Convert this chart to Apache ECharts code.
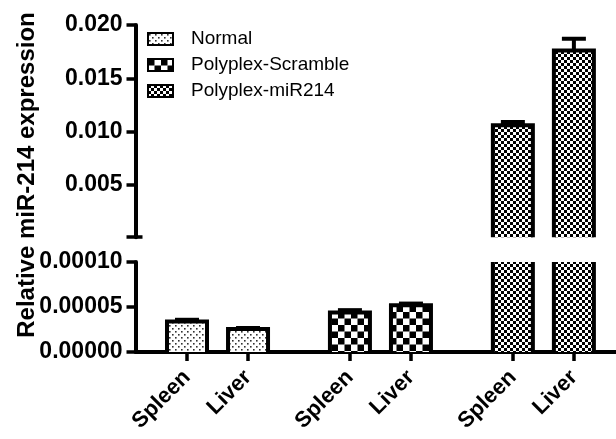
<!DOCTYPE html>
<html><head><meta charset="utf-8">
<script src="https://cdn.jsdelivr.net/npm/echarts@6/dist/echarts.min.js"></script>
<style>html,body{margin:0;padding:0;background:#fff}#c{width:616px;height:439px}</style>
</head><body><div id="c"></div>
<script>
// ---- data ----
const tissues = ['Spleen', 'Liver'];
const groups = ['Normal', 'Polyplex-Scramble', 'Polyplex-miR214'];
const normalMean = [0.000034, 0.0000255];
const normalErr = [0.0000018, 0.0000012];
const scrambleMean = [0.000044, 0.000052];
const scrambleErr = [0.0000025, 0.0000018];
const mir214Mean = [0.0106, 0.0176];
const mir214Err = [0.0003, 0.0011];
const lowerTicks = [0, 0.00005, 0.0001];
const upperTicks = [0.005, 0.010, 0.015, 0.020];
const breakValue = 0.0001;
const yName = 'Relative miR-214 expression';

// ---- layout / style ----
const FONT = "'Liberation Sans', Arial, sans-serif";
const GROUP_STEP = 2.67;
const BAR_W = 40;
const means = [normalMean, scrambleMean, mir214Mean];
const errs = [normalErr, scrambleErr, mir214Err];
const xPos = groups.map((g, gi) => tissues.map((t, ti) => gi * GROUP_STEP + ti));
const allX = [].concat(...xPos);
const xName = [].concat(...groups.map(() => tissues));
const X_MIN = -0.844, X_MAX = 7.03;

function makePattern(kind) {
  const c = document.createElement('canvas');
  const ctx = c.getContext('2d');
  if (kind === 0) {
    c.width = 6; c.height = 6;
    ctx.fillStyle = '#fff'; ctx.fillRect(0, 0, 6, 6);
    ctx.fillStyle = '#333';
    ctx.fillRect(1, 1, 1.6, 1.6); ctx.fillRect(4, 4, 1.6, 1.6);
  } else if (kind === 1) {
    c.width = 13; c.height = 13;
    ctx.fillStyle = '#fff'; ctx.fillRect(0, 0, 13, 13);
    ctx.fillStyle = '#000';
    ctx.fillRect(0, 0, 6.5, 6.5); ctx.fillRect(6.5, 6.5, 6.5, 6.5);
  } else {
    c.width = 6; c.height = 6;
    ctx.fillStyle = '#fff'; ctx.fillRect(0, 0, 6, 6);
    ctx.fillStyle = '#000';
    ctx.fillRect(0, 0, 3, 3); ctx.fillRect(3, 3, 3, 3);
  }
  return { image: c, repeat: 'repeat' };
}
const patterns = [0, 1, 2].map(makePattern);

function renderBar(gi) {
  return function (params, api) {
    const x = api.value(0), y = api.value(1), e = api.value(2);
    const base = api.coord([x, 0]);
    const top = api.coord([x, y]);
    const errTop = api.coord([x, y + e]);
    const l = top[0] - BAR_W / 2, r = top[0] + BAR_W / 2;
    return {
      type: 'group',
      children: [
        { type: 'rect', shape: { x: l, y: top[1], width: BAR_W, height: base[1] - top[1] },
          style: { fill: patterns[gi] } },
        { type: 'line', shape: { x1: top[0], y1: top[1], x2: top[0], y2: errTop[1] },
          style: { stroke: '#000', lineWidth: 4 } },
        { type: 'line', shape: { x1: top[0] - 12, y1: errTop[1], x2: top[0] + 12, y2: errTop[1] },
          style: { stroke: '#000', lineWidth: 4 } },
        { type: 'polyline', shape: { points: [[l, base[1] + 3], [l, top[1]], [r, top[1]], [r, base[1] + 3]] },
          style: { stroke: '#000', lineWidth: 4, fill: null, lineJoin: 'miter' } }
      ]
    };
  };
}

const series = [];
[0, 1].forEach(gridIdx => {
  groups.forEach((g, gi) => {
    series.push({
      type: 'custom', name: g, xAxisIndex: gridIdx, yAxisIndex: gridIdx, clip: true,
      itemStyle: { color: patterns[gi], borderColor: '#000', borderWidth: 2 },
      renderItem: renderBar(gi),
      encode: { x: 0, y: 1 },
      // upper (broken) panel only shows values that reach above the break
      data: tissues.map((t, ti) => (gridIdx === 1 || means[gi][ti] > breakValue)
        ? [xPos[gi][ti], means[gi][ti], errs[gi][ti]] : [xPos[gi][ti], '-', '-'])
    });
  });
});

const tickStyle = { color: '#000', width: 3.5 };
const labelStyle = { color: '#000', fontFamily: FONT, fontWeight: 'bold', fontSize: 23, margin: 13 };

const chart = echarts.init(document.getElementById('c'), null, { renderer: 'canvas' });
chart.setOption({
  animation: false,
  backgroundColor: '#fff',
  grid: [
    { left: 135.5, right: 0, top: 25, height: 212.2 },
    { left: 135.5, right: 0, top: 262, height: 90 }
  ],
  xAxis: [
    { type: 'value', gridIndex: 0, min: X_MIN, max: X_MAX, show: false },
    { type: 'value', gridIndex: 1, min: X_MIN, max: X_MAX,
      splitLine: { show: false },
      axisLine: { show: true, onZero: false, lineStyle: { color: '#000', width: 4 } },
      axisTick: { show: true, customValues: allX, length: 9, lineStyle: tickStyle },
      axisLabel: { customValues: allX, rotate: 45, margin: 22, color: '#000',
        fontFamily: FONT, fontWeight: 'bold', fontSize: 22,
        formatter: v => { let k = 0; allX.forEach((p, i) => { if (Math.abs(p - v) < Math.abs(allX[k] - v)) k = i; }); return xName[k]; } } }
  ],
  yAxis: [
    { type: 'value', gridIndex: 0, position: 'left', min: breakValue, max: upperTicks[upperTicks.length - 1],
      splitLine: { show: false },
      axisLine: { show: true, onZero: false, lineStyle: { color: '#000', width: 4 } },
      axisTick: { show: true, customValues: [breakValue].concat(upperTicks), length: 9, lineStyle: tickStyle },
      axisLabel: Object.assign({ customValues: upperTicks, formatter: v => v.toFixed(3) }, labelStyle) },
    { type: 'value', gridIndex: 1, position: 'left', min: lowerTicks[0], max: lowerTicks[lowerTicks.length - 1],
      splitLine: { show: false },
      axisLine: { show: true, onZero: false, lineStyle: { color: '#000', width: 4 } },
      axisTick: { show: true, customValues: lowerTicks, length: 9, lineStyle: tickStyle },
      axisLabel: Object.assign({ customValues: lowerTicks, formatter: v => v.toFixed(5) }, labelStyle) },
    { type: 'value', gridIndex: 0, position: 'left', min: breakValue, max: upperTicks[upperTicks.length - 1],
      splitLine: { show: false }, axisLine: { show: false, onZero: false }, axisLabel: { show: false },
      axisTick: { show: true, inside: true, customValues: [breakValue], length: 7, lineStyle: tickStyle } }
  ],
  legend: {
    orient: 'vertical', left: 147, top: 29, padding: 0, itemWidth: 25, itemHeight: 12, itemGap: 6,
    icon: 'rect',
    data: groups.map((g, gi) => ({ name: g, itemStyle: { color: patterns[gi], borderColor: '#000', borderWidth: 2 } })),
    textStyle: { color: '#000', fontFamily: FONT, fontSize: 19, lineHeight: 20, padding: [0, 0, 0, 13] }
  },
  graphic: [
    { type: 'text', x: 27, y: 175, rotation: Math.PI / 2,
      style: { text: yName, fill: '#000', font: "bold 24px 'Liberation Sans', Arial, sans-serif",
        align: 'center', verticalAlign: 'middle' } }
  ],
  series: series
});
</script>
</body></html>
